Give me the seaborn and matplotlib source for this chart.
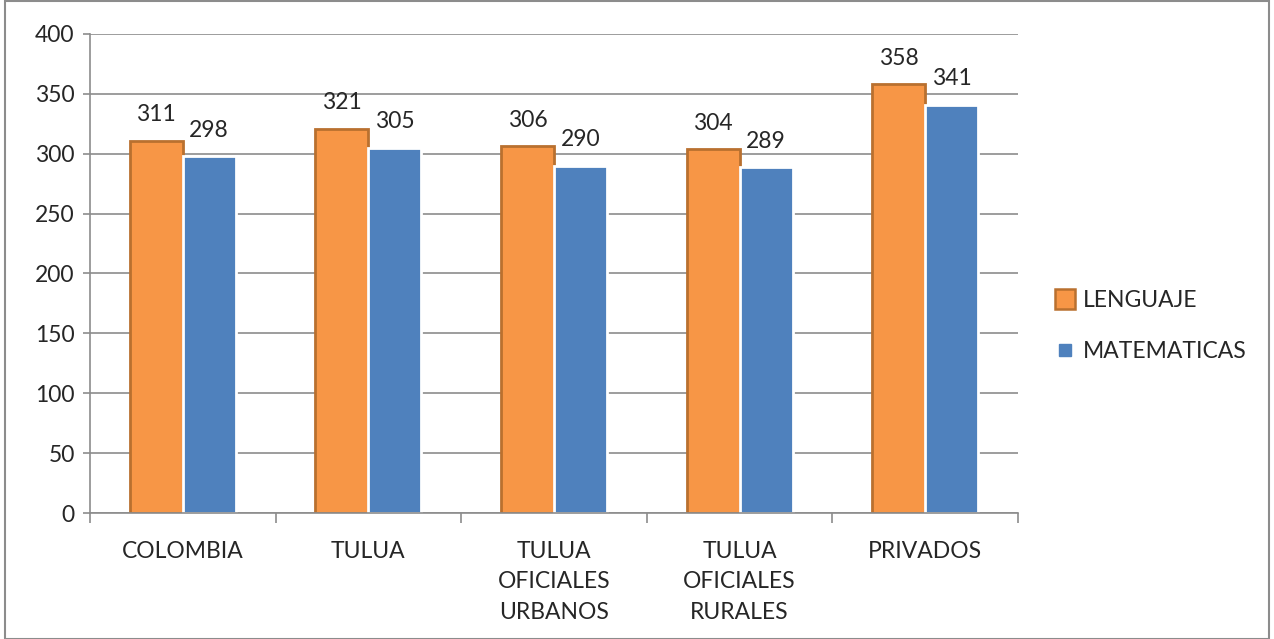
import pandas as pd
import seaborn as sns
import matplotlib.pyplot as plt
from matplotlib.lines import Line2D
from matplotlib.patches import Rectangle

# Data
categorias = ['COLOMBIA', 'TULUA', 'TULUA\nOFICIALES\nURBANOS', 'TULUA\nOFICIALES\nRURALES', 'PRIVADOS']
lenguaje = [311, 321, 306, 304, 358]
matematicas = [298, 305, 290, 289, 341]
series = ['LENGUAJE', 'MATEMATICAS']
colores = ['#F79646', '#4F81BD']

df = pd.DataFrame({
    'categoria': categorias * 2,
    'serie': [series[0]] * len(categorias) + [series[1]] * len(categorias),
    'valor': lenguaje + matematicas,
})

sns.set_style('white')
plt.rcParams['font.family'] = ['Lato', 'DejaVu Sans']
fs = 16.5

fig = plt.figure(figsize=(12.74, 6.39), dpi=100)
ax = fig.add_axes([0.0706, 0.197, 0.7285, 0.750])

sns.barplot(data=df, x='categoria', y='valor', hue='serie', palette=colores,
            width=0.57, ax=ax, legend=False, saturation=1)

# Bar edges: darker orange outline for lenguaje, white gap for matematicas
for patch in ax.containers[0]:
    patch.set_edgecolor('#B9702F')
    patch.set_linewidth(2)
for patch in ax.containers[1]:
    patch.set_edgecolor('white')
    patch.set_linewidth(2)

for cont in ax.containers:
    ax.bar_label(cont, fmt='%d', padding=11, fontsize=fs)

# Axes styling
ax.set_ylim(0, 400)
ax.set_yticks(range(0, 401, 50))
ax.set_xlim(-0.5, len(categorias) - 0.5)
ax.set_xlabel('')
ax.set_ylabel('')
ax.yaxis.grid(True, color='#8C8C8C', linewidth=1.2)
ax.set_axisbelow(True)
for side in ['top', 'right']:
    ax.spines[side].set_visible(False)
for side in ['left', 'bottom']:
    ax.spines[side].set_color('#8C8C8C')
    ax.spines[side].set_linewidth(1.2)

ax.tick_params(axis='y', labelsize=fs, length=5, width=1.2, color='#8C8C8C',
               left=True, pad=6)
ax.tick_params(axis='x', labelsize=fs, length=0, pad=20)
for lab in ax.get_xticklabels():
    lab.set_linespacing(1.55)
    lab.set_verticalalignment('top')

# Tick marks at category boundaries
ax.set_xticks([i - 0.5 for i in range(len(categorias) + 1)], minor=True)
ax.tick_params(axis='x', which='minor', bottom=True, length=7, width=1.2,
               color='#8C8C8C')

# Legend
handles = [
    Line2D([], [], marker='s', linestyle='', markersize=15,
           markerfacecolor=colores[0], markeredgecolor='#B9702F', markeredgewidth=1.8),
    Line2D([], [], marker='s', linestyle='', markersize=8,
           markerfacecolor=colores[1], markeredgecolor=colores[1]),
]
fig.legend(handles, series, loc='center left', bbox_to_anchor=(0.811, 0.49),
           frameon=False, fontsize=fs, handlelength=1.0, handletextpad=0.25,
           labelspacing=1.3)

# Outer chart border
fig.patches.append(Rectangle((0.004, 0.0), 0.992, 0.998, transform=fig.transFigure,
                             fill=False, edgecolor='#8C8C8C', linewidth=1.5))

fig.savefig('out.png', dpi=100)
